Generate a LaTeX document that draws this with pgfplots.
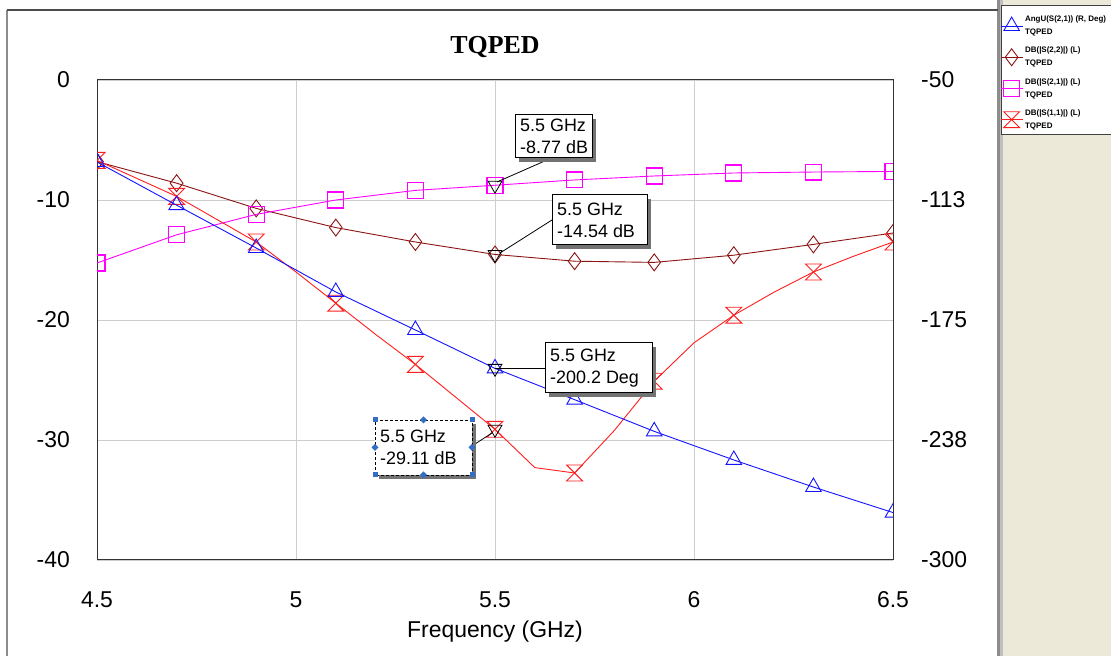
\documentclass[border=0pt]{standalone}
\usepackage{pgfplots}
\usepackage{pgfplotstable}
\pgfplotsset{compat=1.18}
\usepackage{fontspec}
\setmainfont{Liberation Sans}
\newfontfamily\titlefont{Liberation Serif}
\definecolor{cblue}{RGB}{20,20,255}
\definecolor{cdred}{RGB}{140,20,20}
\definecolor{mymagenta}{RGB}{255,0,255}
\definecolor{cred}{RGB}{255,30,30}
\definecolor{cgrid}{RGB}{205,205,205}
\definecolor{cbeige}{RGB}{236,233,216}
\definecolor{chandle}{RGB}{50,110,200}

\pgfdeclareplotmark{hourglass}{%
  \pgfpathmoveto{\pgfqpoint{-\pgfplotmarksize}{\pgfplotmarksize}}%
  \pgfpathlineto{\pgfqpoint{\pgfplotmarksize}{\pgfplotmarksize}}%
  \pgfpathlineto{\pgfqpoint{-\pgfplotmarksize}{-\pgfplotmarksize}}%
  \pgfpathlineto{\pgfqpoint{\pgfplotmarksize}{-\pgfplotmarksize}}%
  \pgfpathclose
  \pgfusepathqstroke}
\pgfdeclareplotmark{sqbox}{%
  \pgfpathmoveto{\pgfqpoint{-\pgfplotmarksize}{\pgfplotmarksize}}%
  \pgfpathlineto{\pgfqpoint{\pgfplotmarksize}{\pgfplotmarksize}}%
  \pgfpathlineto{\pgfqpoint{\pgfplotmarksize}{-\pgfplotmarksize}}%
  \pgfpathlineto{\pgfqpoint{-\pgfplotmarksize}{-\pgfplotmarksize}}%
  \pgfpathclose
  \pgfusepathqstroke}

\pgfplotstableread{
f ang s22 s21
4.5 -92.7 -6.8 -15.25
4.7 -115.2 -8.6 -12.9
4.9 -137.5 -10.7 -11.2
5.1 -160.4 -12.3 -10.0
5.3 -180.2 -13.5 -9.2
5.5 -200.2 -14.54 -8.77
5.7 -216.5 -15.1 -8.33
5.9 -233.0 -15.2 -8.0
6.1 -247.9 -14.6 -7.75
6.3 -262.0 -13.7 -7.67
6.5 -275.3 -12.75 -7.62
}\maindata

\pgfplotstableread{
f s11
4.5 -6.7
4.6 -8.2
4.7 -9.7
4.8 -11.6
4.9 -13.5
5.0 -16.0
5.1 -18.6
5.2 -21.2
5.3 -23.7
5.4 -26.4
5.5 -29.11
5.6 -32.3
5.7 -32.75
5.8 -29.2
5.9 -25.1
6.0 -21.9
6.1 -19.6
6.2 -17.7
6.3 -16.0
6.4 -14.7
6.5 -13.5
}\sdata

\newcommand{\annotfont}{\fontsize{18}{22}\selectfont}
% pixel-coordinate box: x1 y1 x2 y2 text
\newcommand{\annot}[5]{%
  \fill[black!55] ({#1+4},{656-#4-4}) rectangle ({#3+4},{656-#2-4});
  \filldraw[fill=white, draw=black, line width=1bp] ({#1},{656-#2}) rectangle ({#3},{656-#4});
  \node[anchor=west, align=left, font=\annotfont, inner sep=0pt] at ({#1+5},{656-(#2+#4)/2}) {#5};
}

\begin{document}
\begin{tikzpicture}[x=1bp,y=1bp]
\useasboundingbox (0,0) rectangle (1111,656);
\fill[white] (0,0) rectangle (1111,656);
\fill[cbeige] (1002,0) rectangle (1111,656);
\fill[black!45] (997,0) rectangle (1000,656);
\fill[black!25] (1000,0) rectangle (1003,656);
\draw[black!45, line width=1.2bp] (7,0) -- (7,646);
\draw[black!70, line width=1.2bp] (7,646) -- (998,646);
% legend panel
\filldraw[fill=white, draw=black!75, line width=1bp] (1001,521) rectangle (1115,650);

\begin{axis}[
  at={(97bp,96bp)}, anchor=south west,
  scale only axis, width=796bp, height=480bp,
  xmin=4.5, xmax=6.5, ymin=-40, ymax=0,
  xtick={4.5,5,5.5,6,6.5}, xticklabels={4.5,5,5.5,6,6.5},
  ytick={-40,-30,-20,-10,0}, yticklabels={-40,-30,-20,-10,0},
  grid=major, major grid style={cgrid, line width=0.9bp},
  major tick length=0pt,
  axis line style={black!80, line width=1bp},
  clip marker paths=true,
  ticklabel style={font=\fontsize{23}{26}\selectfont, inner sep=0pt},
  yticklabel style={anchor=east, xshift=-27bp},
  xticklabel style={anchor=center, yshift=-40bp},
  title={\titlefont\bfseries\fontsize{26}{30}\selectfont TQPED},
  title style={at={(0.5,1)}, anchor=center, yshift=27bp},
  xlabel={Frequency (GHz)},
  xlabel style={at={(0.5,0)}, anchor=center, yshift=-72bp, font=\fontsize{23}{26}\selectfont},
]
\addplot[color=cdred, line width=0.9bp, mark=diamond, mark size=8.5, mark options={solid, draw=cdred, line width=0.9bp}] table[x=f,y=s22] {\maindata};
\addplot[color=mymagenta, line width=0.9bp, mark=sqbox, mark size=8, mark options={solid, draw=mymagenta, line width=1.1bp}] table[x=f,y=s21] {\maindata};
\addplot[color=cred, line width=0.9bp, mark=hourglass, mark size=8, mark repeat=2, mark options={solid, draw=cred, line width=0.9bp}] table[x=f,y=s11] {\sdata};
\addplot[color=black, only marks, mark=triangle, mark size=8, mark options={rotate=180, draw=black, fill=none, line width=0.8bp}] coordinates {(5.5,-8.77) (5.5,-14.54) (5.5,-29.11)};
\end{axis}

\begin{axis}[
  at={(97bp,96bp)}, anchor=south west,
  scale only axis, width=796bp, height=480bp,
  xmin=4.5, xmax=6.5, ymin=-300, ymax=-50,
  axis x line=none, axis y line*=right,
  ytick={-300,-237.5,-175,-112.5,-50}, yticklabels={-300,-238,-175,-113,-50},
  major tick length=0pt,
  axis line style={black!80, line width=1bp},
  clip marker paths=true,
  ticklabel style={font=\fontsize{23}{26}\selectfont, inner sep=0pt},
  yticklabel style={anchor=west, xshift=28bp},
  legend style={at={(1.1344,1.138)}, anchor=north west, draw=none, fill=none,
    font=\bfseries\fontsize{8}{12}\selectfont, cells={align=left, anchor=west},
    row sep=7bp, inner sep=0pt, column sep=0bp},
  legend image code/.code={\draw[mark repeat=2, mark phase=2, #1] plot coordinates {(0bp,0bp) (11bp,0bp) (22bp,0bp)};},
]
\addplot[color=cblue, line width=0.9bp, mark=triangle, mark size=9, mark options={solid, draw=cblue, line width=0.9bp}] table[x=f,y=ang] {\maindata};
\addlegendentry{AngU(S(2,1)) (R, Deg)\\[1bp]TQPED}
\addlegendimage{color=cdred, line width=0.9bp, mark=diamond, mark size=8.5, mark options={solid, draw=cdred}}
\addlegendentry{DB(|S(2,2)|) (L)\\[1bp]TQPED}
\addlegendimage{color=mymagenta, line width=0.9bp, mark=sqbox, mark size=8, mark options={solid, draw=mymagenta}}
\addlegendentry{DB(|S(2,1)|) (L)\\[1bp]TQPED}
\addlegendimage{color=cred, line width=0.9bp, mark=hourglass, mark size=8, mark options={solid, draw=cred}}
\addlegendentry{DB(|S(1,1)|) (L)\\[1bp]TQPED}
\addplot[color=black, only marks, mark=triangle, mark size=8, mark options={rotate=180, draw=black, fill=none, line width=0.8bp}] coordinates {(5.5,-200.2)};
\end{axis}

% annotation markers
\draw[black, line width=0.8bp] (497,{656-182}) -- (547,{656-160});
\draw[black, line width=0.8bp] (500,{656-253}) -- (552,{656-220});
\draw[black, line width=0.8bp] (495,{656-368}) -- (545,{656-368});
\draw[black, line width=0.8bp] (475,{656-444}) -- (492,{656-433});
\annot{515}{115}{592}{158}{5.5 GHz\\-8.77 dB}
\annot{552}{195}{647}{245}{5.5 GHz\\-14.54 dB}
\annot{545}{343}{652}{393}{5.5 GHz\\-200.2 Deg}
% selected box
\fill[black!55] (471,{656-479}) rectangle (476,{656-424});
\fill[black!55] (379,{656-479}) rectangle (476,{656-475});
\fill[white] (375,{656-475}) rectangle (472,{656-420});
\draw[black, line width=0.8bp, dash pattern=on 3bp off 2bp] (375,{656-475}) rectangle (472,{656-420});
\node[anchor=west, align=left, font=\annotfont, inner sep=0pt] at (380,{656-447.5}) {5.5 GHz\\-29.11 dB};
\foreach \hx/\hy in {375/420,472/420,375/475,472/475}
  \fill[chandle] ({\hx-2.5},{656-\hy-2.5}) rectangle ({\hx+2.5},{656-\hy+2.5});
\foreach \hx/\hy in {423.5/420,423.5/475,375/447.5,472/447.5}
  \fill[chandle] ({\hx},{656-\hy+3.5}) -- ({\hx+3.5},{656-\hy}) -- ({\hx},{656-\hy-3.5}) -- ({\hx-3.5},{656-\hy}) -- cycle;
\end{tikzpicture}
\end{document}
